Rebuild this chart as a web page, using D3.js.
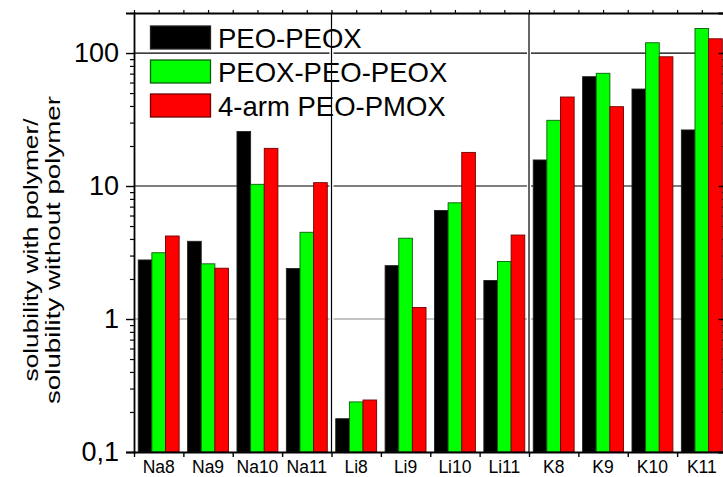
<!DOCTYPE html>
<html>
<head>
<meta charset="utf-8">
<script src="https://cdn.jsdelivr.net/npm/d3@7"></script>
<style>
  html, body { margin: 0; padding: 0; background: #fff; }
  svg { display: block; font-family: "Liberation Sans", Arial, sans-serif; }
</style>
</head>
<body>
<svg id="chart" width="723" height="477"></svg>
<script>
// ---- data ----
const categories = ["Na8","Na9","Na10","Na11","Li8","Li9","Li10","Li11","K8","K9","K10","K11"];
const seriesNames = ["PEO-PEOX","PEOX-PEO-PEOX","4-arm PEO-PMOX"];
const peoPeox      = [2.78, 3.84, 25.7, 2.40, 0.178, 2.52, 6.55, 1.95, 15.7, 66.4, 53.6, 26.4];
const peoxPeoPeox  = [3.15, 2.60, 10.3, 4.49, 0.238, 4.05, 7.48, 2.71, 31.2, 70.4, 119.5, 153];
const fourArmPmox  = [4.21, 2.41, 19.2, 10.6, 0.246, 1.22, 17.9, 4.28, 46.7, 39.5, 93.7, 128];
const yTickValues = [0.1, 1, 10, 100];
const yTickLabels = ["0,1", "1", "10", "100"];
const seriesColors = ["#000000", "#00ff00", "#ff0000"];
const seriesStroke = ["#222222", "#0b5e0b", "#6e0000"];

const seriesValues = [peoPeox, peoxPeoPeox, fourArmPmox];

// ---- layout ----
const svg = d3.select("#chart");
const L = 134, R = 726.5, T = 13, B = 452;
const FONT = '"Liberation Sans", Arial, sans-serif';

const x = d3.scaleBand().domain(categories).range([L, R]).padding(0);
const xi = d3.scaleBand().domain(d3.range(3)).range([0, x.bandwidth()]).paddingInner(0).paddingOuter(0.31);
const y = d3.scaleLog().domain([0.1, 200]).range([B, T]);

// minor tick values
const minorTicks = [];
[0.1, 1, 10, 100].forEach(d => { for (let k = 2; k <= 9; k++) { const v = d * k; if (v <= 200 + 1e-9) minorTicks.push(v); } });

// reference lines
[[1, "#8a8a8a"], [10, "#000"], [100, "#000"]].forEach(([v, c]) => {
  svg.append("line").attr("x1", L).attr("x2", R).attr("y1", y(v)).attr("y2", y(v))
    .attr("stroke", c).attr("stroke-width", 1.2);
});

// bars
const groups = svg.append("g").selectAll("g").data(categories).join("g")
  .attr("transform", d => `translate(${x(d)},0)`);
groups.each(function(cat, ci) {
  const g = d3.select(this);
  seriesValues.forEach((vals, si) => {
    const v = vals[ci];
    g.append("rect")
      .attr("x", xi(si)).attr("width", xi.bandwidth())
      .attr("y", y(v)).attr("height", B - y(v))
      .attr("fill", seriesColors[si])
      .attr("stroke", seriesStroke[si]).attr("stroke-width", 0.9);
  });
});

// vertical separators
[4, 8].forEach(i => {
  const xx = x(categories[i]);
  svg.append("line").attr("x1", xx).attr("x2", xx).attr("y1", T).attr("y2", B)
    .attr("stroke", "#fff").attr("stroke-width", 4);
  svg.append("line").attr("x1", xx).attr("x2", xx).attr("y1", T).attr("y2", B)
    .attr("stroke", "#000").attr("stroke-width", 1.2);
});

// axes
const yAxisL = d3.axisLeft(y).tickValues(yTickValues).tickFormat((d, i) => yTickLabels[i]).tickSize(8).tickPadding(7);
const gy = svg.append("g").attr("transform", `translate(${L},0)`).call(yAxisL);
gy.attr("font-family", FONT);
gy.select(".domain").attr("stroke", "#000").attr("stroke-width", 1.8);
gy.selectAll(".tick line").attr("stroke", "#000").attr("stroke-width", 1.4);
gy.selectAll("text").attr("font-size", 27).attr("fill", "#000");
svg.append("g").attr("transform", `translate(${L},0)`)
  .call(d3.axisLeft(y).tickValues(minorTicks).tickFormat("").tickSize(4))
  .call(g => { g.select(".domain").remove(); g.selectAll(".tick line").attr("stroke", "#000").attr("stroke-width", 1.2); });

// right axis (ticks inward)
const gr = svg.append("g").attr("transform", `translate(${R},0)`)
  .call(d3.axisLeft(y).tickValues(yTickValues).tickFormat("").tickSize(8));
gr.select(".domain").attr("stroke", "#000").attr("stroke-width", 1.8);
gr.selectAll(".tick line").attr("stroke", "#000").attr("stroke-width", 1.4);
svg.append("g").attr("transform", `translate(${R},0)`)
  .call(d3.axisLeft(y).tickValues(minorTicks).tickFormat("").tickSize(4))
  .call(g => { g.select(".domain").remove(); g.selectAll(".tick line").attr("stroke", "#000").attr("stroke-width", 1.2); });

// bottom axis: ticks at group boundaries, labels at centers
const xb = d3.scaleLinear().domain([0, categories.length]).range([L, R]);
const gb = svg.append("g").attr("transform", `translate(0,${B})`)
  .call(d3.axisBottom(xb).tickValues(d3.range(categories.length + 1)).tickFormat("").tickSize(5).tickSizeOuter(0));
gb.select(".domain").attr("stroke", "#000").attr("stroke-width", 1.8);
gb.selectAll(".tick line").attr("stroke", "#000").attr("stroke-width", 1.4);
svg.append("g").selectAll("text").data(categories).join("text")
  .attr("x", d => x(d) + x.bandwidth() / 2).attr("y", 473)
  .attr("text-anchor", "middle").attr("font-size", 17.5).attr("fill", "#000")
  .attr("font-family", FONT)
  .text(d => d);

// top axis: ticks every half group, pointing up
const gt = svg.append("g").attr("transform", `translate(0,${T})`)
  .call(d3.axisTop(xb).tickValues(d3.range(0, categories.length + 0.01, 0.5)).tickFormat("").tickSize(3).tickSizeOuter(0));
gt.select(".domain").attr("stroke", "#000").attr("stroke-width", 1.8);
gt.selectAll(".tick line").attr("stroke", "#000").attr("stroke-width", 1.2);

// y-axis title
const ylab = svg.append("g").attr("transform", "translate(0,250) rotate(-90)").attr("font-family", FONT);
ylab.append("text").attr("x", 0).attr("y", 38).attr("text-anchor", "middle")
  .attr("font-size", 20).attr("textLength", 263).attr("lengthAdjust", "spacingAndGlyphs")
  .text("solubility with polymer/");
ylab.append("text").attr("x", 0).attr("y", 60).attr("text-anchor", "middle")
  .attr("font-size", 20).attr("textLength", 308).attr("lengthAdjust", "spacingAndGlyphs")
  .text("solubility without polymer");

// legend
const leg = svg.append("g").attr("font-family", FONT);
seriesNames.forEach((name, i) => {
  const cy = 37.5 + i * 34;
  leg.append("rect").attr("x", 150.5).attr("y", cy - 11.5).attr("width", 60).attr("height", 23)
    .attr("fill", seriesColors[i]).attr("stroke", seriesStroke[i]).attr("stroke-width", 1.3);
  leg.append("text").attr("x", 218).attr("y", cy + 10).attr("font-size", 27.5).attr("fill", "#000").text(name);
});
</script>
</body>
</html>
